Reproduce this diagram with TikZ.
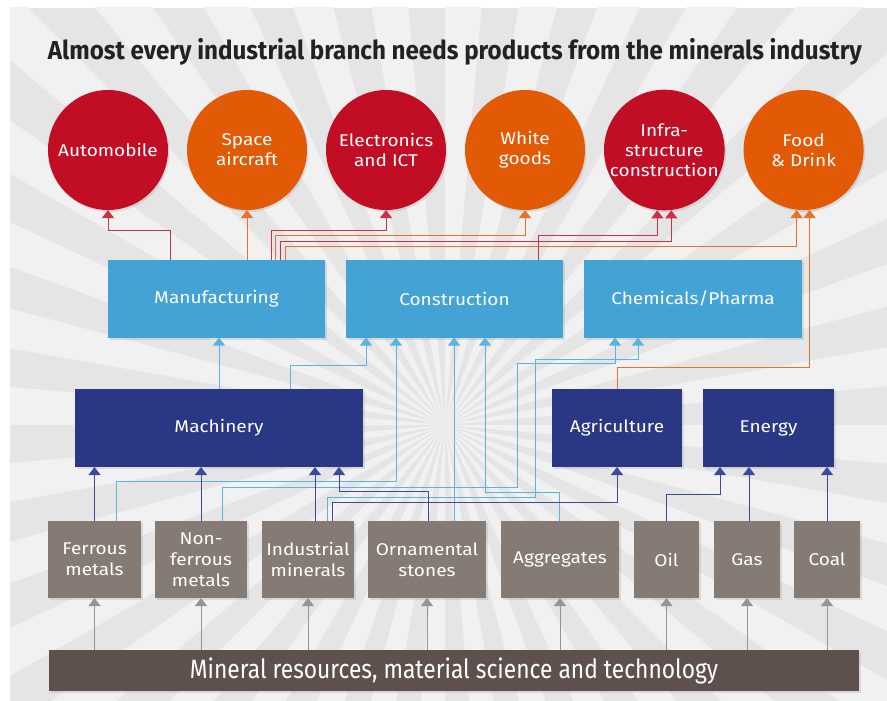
\documentclass[tikz,border=0pt]{standalone}
\usepackage{fontspec}
\setmainfont{Fira Sans}[FakeStretch=1.12]
\newfontfamily\condfont[FakeStretch=0.86]{Fira Sans}
\newfontfamily\headfont[FakeStretch=0.93]{Fira Sans}
\usetikzlibrary{positioning,arrows.meta,shadows}

\definecolor{rayback}{HTML}{E5E5E5}
\definecolor{raylight}{HTML}{F1F1F1}
\definecolor{ballred}{HTML}{C20E25}
\definecolor{ballorange}{HTML}{E25A05}
\definecolor{skyblue}{HTML}{43A3D5}
\definecolor{skyline}{HTML}{5DB3E0}
\definecolor{navyblue}{HTML}{293784}
\definecolor{navyline}{HTML}{3D4A9C}
\definecolor{stonegrey}{HTML}{857A74}
\definecolor{stoneline}{HTML}{9A9391}
\definecolor{basebrown}{HTML}{5E514D}
\definecolor{titlegrey}{HTML}{222222}

\tikzset{
    shade/.style={drop shadow={shadow xshift=1.5pt, shadow yshift=-2pt, opacity=0.2}},
    box/.style={rectangle, inner sep=0pt, outer sep=0pt, minimum height=78pt,
        align=center, text=white, font=\fontsize{17}{20}\selectfont, shade},
    sector/.style={box, fill=skyblue},
    basic/.style={box, fill=navyblue},
    raw/.style={box, fill=stonegrey, minimum height=77pt, font=\fontsize{17}{21}\selectfont},
    ball/.style={circle, inner sep=0pt, outer sep=0pt, minimum size=120pt,
        align=center, text=white, font=\fontsize{17}{20}\selectfont, shade},
    redball/.style={ball, fill=ballred},
    orangeball/.style={ball, fill=ballorange},
    tip/.style={-{Triangle[width=12pt,length=8pt]}, line width=1pt},
    redln/.style={tip, draw=ballred!85},
    orangeln/.style={tip, draw=ballorange!85},
    skyln/.style={tip, draw=skyline},
    navyln/.style={tip, draw=navyline},
    stoneln/.style={tip, draw=stoneline}
}

\begin{document}
\begin{tikzpicture}[x=1pt, y=-1pt]
    \useasboundingbox (0,0) rectangle (887,701);

    % sunburst background
    \begin{scope}
        \clip (10,8) rectangle (887,701);
        \fill[rayback] (10,8) rectangle (887,701);
        \foreach \a in {0,10,...,350}
            \fill[raylight] (445,425) -- +(\a:1300) -- +(\a+5:1300) -- cycle;
    \end{scope}

    \node (title) at (455,52) {\headfont\bfseries\fontsize{26}{30}\selectfont\color{titlegrey}
        Almost every industrial branch needs products from the minerals industry};

    % industries
    \node (auto) [redball] at (108,150) {Automobile};
    \node (space) [orangeball, right=19pt of auto] {Space\\aircraft};
    \node (elec) [redball, right=19pt of space] {Electronics\\and ICT};
    \node (white) [orangeball, right=19pt of elec] {White\\goods};
    \node (infra) [redball, right=19pt of white] {Infra-\\structure\\construction};
    \node (food) [orangeball, right=19pt of infra] {Food\\\& Drink};

    % sectors
    \node (manuf) [sector, minimum width=217pt] at (216.5,298.5) {Manufacturing};
    \node (constr) [sector, minimum width=217pt, right=21pt of manuf] {Construction};
    \node (chem) [sector, minimum width=218pt, right=21pt of constr] {Chemicals/Pharma};

    \node (mach) [basic, minimum width=288pt] at (219,428) {Machinery};
    \node (agri) [basic, minimum width=130pt] at (617,428) {Agriculture};
    \node (energy) [basic, minimum width=131pt, right=21pt of agri] {Energy};

    % raw materials
    \node (ferrous) [raw, minimum width=93pt] at (94.5,559.5) {Ferrous\\metals};
    \node (nonfer) [raw, minimum width=92pt, right=14pt of ferrous] {Non-\\ferrous\\metals};
    \node (indmin) [raw, minimum width=92pt, right=15pt of nonfer] {Industrial\\minerals};
    \node (ornam) [raw, minimum width=118pt, right=14pt of indmin] {Ornamental\\stones};
    \node (aggr) [raw, minimum width=118pt, right=15pt of ornam] {Aggregates};
    \node (oil) [raw, minimum width=65pt, right=15pt of aggr] {Oil};
    \node (gas) [raw, minimum width=66pt, right=15pt of oil] {Gas};
    \node (coal) [raw, minimum width=66pt, right=14pt of gas] {Coal};

    \node (bar) [box, fill=basebrown, minimum width=810pt, minimum height=41pt] at (454,670.5)
        {\condfont\fontsize{26.5}{30}\selectfont Mineral resources, material science and technology};

    % sectors to industries
    \draw[redln] (170,0 |- manuf.north) -- (170,230) -| (auto.south);
    \draw[orangeln] (space.south |- manuf.north) -- (space.south);
    \draw[redln] (271,0 |- manuf.north) -- (271,230) -| (elec.south);
    \draw[orangeln] (275,0 |- manuf.north) -- (275,235) -| (white.south);
    \draw[redln] (280,0 |- manuf.north) -- (280,241) -| ([xshift=7pt]infra.south);
    \draw[orangeln] (285,0 |- manuf.north) -- (285,246) -| ([xshift=-7pt]food.south);
    \draw[redln] (538,0 |- constr.north) -- (538,235) -| ([xshift=-7pt]infra.south);
    \draw[orangeln] (617,0 |- agri.north) -- (617,367) -| ([xshift=6pt]food.south);

    % basics and raw materials to sectors
    \draw[skyln] (219,0 |- mach.north) -- (219,0 |- manuf.south);
    \draw[skyln] (290,0 |- mach.north) -- (290,365) -| (366,0 |- constr.south);
    \draw[skyln] (116,0 |- ferrous.north) -- (116,481) -| (396,0 |- constr.south);
    \draw[skyln] (454,0 |- ornam.north) -- (454,0 |- constr.south);
    \draw[skyln] (559,0 |- aggr.north) -- (559,492) -| (485,0 |- constr.south);
    \draw[skyln] (222,0 |- nonfer.north) -- (222,487) -| (517,363) -| (615,0 |- chem.south);
    \draw[skyln] (327,0 |- indmin.north) -- (327,497) -| (535,359) -| (638,0 |- chem.south);

    % raw materials to basics
    \draw[navyln] (ferrous.north) -- (ferrous.north |- mach.south);
    \draw[navyln] (nonfer.north) -- (nonfer.north |- mach.south);
    \draw[navyln] (315,0 |- indmin.north) -- (315,0 |- mach.south);
    \draw[navyln] (428,0 |- ornam.north) -- (428,491) -| (339,0 |- mach.south);
    \draw[navyln] (332,0 |- indmin.north) -- (332,502) -| (agri.south);
    \draw[navyln] (oil.north) -- (oil.north |- 0,494) -| (720,0 |- energy.south);
    \draw[navyln] (749,0 |- gas.north) -- (749,0 |- energy.south);
    \draw[navyln] (coal.north) -- (coal.north |- energy.south);

    \foreach \r in {ferrous,nonfer,indmin,ornam,aggr,oil,gas,coal}
        \draw[stoneln] (\r.south |- bar.north) -- (\r.south);
\end{tikzpicture}
\end{document}
